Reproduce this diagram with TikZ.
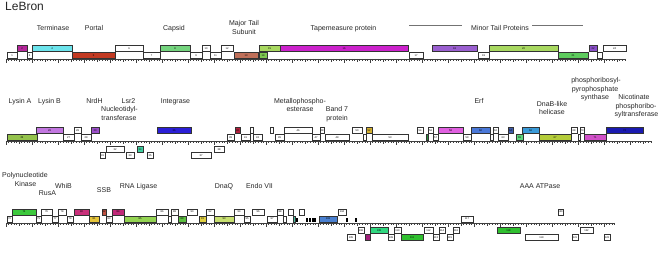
\documentclass[tikz,border=0pt]{standalone}
\usepackage{fontspec}
\setmainfont{Liberation Sans}
\definecolor{cMag}{HTML}{B5279B}
\definecolor{cCyan}{HTML}{6CE4EC}
\definecolor{cPortal}{HTML}{C23A22}
\definecolor{cCapsid}{HTML}{74D47E}
\definecolor{cBrown}{HTML}{C0705A}
\definecolor{cGr14}{HTML}{7EC850}
\definecolor{cLtGr}{HTML}{A8D860}
\definecolor{cTape}{HTML}{CC22CC}
\definecolor{cPurp}{HTML}{9A5FD0}
\definecolor{cGr21}{HTML}{5ECC5E}
\definecolor{cPurp2}{HTML}{8A4FC8}
\definecolor{cLysA}{HTML}{94C24C}
\definecolor{cLysB}{HTML}{C277E0}
\definecolor{cNrdH}{HTML}{9B4FC9}
\definecolor{cTeal}{HTML}{3FD0A0}
\definecolor{cInt}{HTML}{2B1FD6}
\definecolor{cCrim}{HTML}{B0203C}
\definecolor{cGold}{HTML}{D4B030}
\definecolor{cDkGr}{HTML}{2A8A3A}
\definecolor{cPink}{HTML}{E060E0}
\definecolor{cBlue}{HTML}{4A78D8}
\definecolor{cDkBl}{HTML}{3C5AA8}
\definecolor{cGr65}{HTML}{5CD47A}
\definecolor{cSky}{HTML}{3A9AD8}
\definecolor{cYG}{HTML}{B4CC3A}
\definecolor{cMag71}{HTML}{D050C8}
\definecolor{cNavy}{HTML}{1A1AB0}
\definecolor{cGr74}{HTML}{3CC83C}
\definecolor{cRose}{HTML}{C8307A}
\definecolor{cGold81}{HTML}{E6C53A}
\definecolor{cSSB}{HTML}{C05040}
\definecolor{cRose84}{HTML}{C02878}
\definecolor{cRNA}{HTML}{94D452}
\definecolor{cGr89}{HTML}{5CC040}
\definecolor{cGold91}{HTML}{E0D040}
\definecolor{cYG93}{HTML}{C8E070}
\definecolor{cTeal101}{HTML}{40C0A0}
\definecolor{cBl103}{HTML}{4A80D0}
\definecolor{cPlum}{HTML}{A0207A}
\definecolor{cSpring}{HTML}{30D880}
\definecolor{cGreen}{HTML}{30C030}
\newcommand\gene[6]{%
  \pgfmathsetmacro\gw{#3-#2}%
  \pgfmathsetmacro\gx{(#2+#3)/2}%
  \node[gbox, fill=#5, minimum width=\gw pt] (#1) at (\gx,#4) {#6};}
\newcommand\trna[3]{%
  \pgfmathsetmacro\gw{#3-#2}%
  \pgfmathsetmacro\gx{(#2+#3)/2}%
  \node[trnabox, minimum width=\gw pt] (#1) at (\gx,220) {};}
\newcommand\ruler[2]{% y, number of minor ticks
  \draw[rulerline] (6,#1) -- ({6+2.6*#2},#1);
  \foreach \i in {0,...,#2}{
    \pgfmathsetmacro\tl{mod(\i,10)==0 ? 4 : (mod(\i,5)==0 ? 3 : 2)}
    \draw[rulerline] ({6+2.6*\i},#1) -- ++(0,\tl);
  }}
\begin{document}
\begin{tikzpicture}[x=1pt,y=-1pt,
  gbox/.style={draw=black!80, line width=0.4pt, inner sep=0pt, outer sep=0pt,
    minimum height=5.8pt, font=\fontsize{2.6}{3}\selectfont},
  trnabox/.style={fill=black, draw=none, inner sep=0pt, minimum height=4pt},
  rulerline/.style={draw=black!75, line width=0.35pt},
  lab/.style={anchor=base, inner sep=0pt, text=black!85, font=\fontsize{7}{8.5}\selectfont},
  bracketline/.style={draw=black!55, line width=0.5pt}]
\useasboundingbox (0,0) rectangle (661,256);
\node[anchor=base west, inner sep=0pt, text=black!85, font=\fontsize{12}{14}\selectfont] (title) at (5,11) {LeBron};

% ---------------- Row 1 ----------------
\ruler{59}{238}
\def\U{48.3}\def\L{55.3}
\gene{g1}{7}{17}{\L}{white}{1}
\gene{g2}{17}{27}{\U}{cMag}{2}
\gene{g3}{27}{32}{\L}{white}{3}
\gene{g4}{32}{72}{\U}{cCyan}{4}
\gene{g5}{72}{115}{\L}{cPortal}{5}
\gene{g6}{115}{143}{\U}{white}{6}
\gene{g7}{143}{160}{\L}{white}{7}
\gene{g8}{160}{190}{\U}{cCapsid}{8}
\gene{g9}{190}{202}{\L}{white}{9}
\gene{g10}{202}{210}{\U}{white}{10}
\gene{g11}{210}{221}{\L}{white}{11}
\gene{g12}{221}{233}{\U}{white}{12}
\gene{g13}{234}{258}{\L}{cBrown}{13}
\gene{g14}{259}{267}{\L}{cGr14}{14}
\gene{g15}{259}{280}{\U}{cLtGr}{15}
\gene{g16}{280}{408}{\U}{cTape}{16}
\gene{g17}{409}{423}{\L}{white}{17}
\gene{g18}{432}{477}{\U}{cPurp}{18}
\gene{g19}{478}{489}{\L}{white}{19}
\gene{g20}{489}{558}{\U}{cLtGr}{20}
\gene{g21}{558}{588}{\L}{cGr21}{21}
\gene{g22}{589}{597}{\U}{cPurp2}{22}
\gene{g23}{597}{602}{\L}{white}{}
\gene{g24}{603}{626}{\U}{white}{24}

\node[lab] (lterm) at (53,30.3) {Terminase};
\node[lab] (lport) at (94,30.3) {Portal};
\node[lab] (lcaps) at (174,30.3) {Capsid};
\node[lab] (lmts1) at (244,25.7) {Major Tail};
\node[lab] (lmts2) at (244,34.3) {Subunit};
\node[lab] (ltape) at (343.5,30.3) {Tapemeasure protein};
\node[lab] (lmtp) at (500,30.3) {Minor Tail Proteins};
\coordinate (mtpa) at (409,25.5);
\coordinate (mtpb) at (462,25.5);
\coordinate (mtpc) at (532,25.5);
\coordinate (mtpd) at (583,25.5);
\draw[bracketline] (mtpa) -- (mtpb);
\draw[bracketline] (mtpc) -- (mtpd);

% ---------------- Row 2 ----------------
\ruler{141.3}{248}
\def\U{130.3}\def\L{137.3}\def\Ba{149.5}\def\Bb{155.2}
\gene{g25}{7}{37}{\L}{cLysA}{25}
\gene{g26}{36}{63}{\U}{cLysB}{26}
\gene{g27}{63}{74}{\L}{white}{27}
\gene{g28}{74}{81}{\U}{white}{28}
\gene{g29}{81}{91}{\L}{white}{29}
\gene{g30}{91}{99}{\U}{cNrdH}{30}
\gene{g31}{100}{105}{\Bb}{white}{31}
\gene{g32}{106}{124}{\Ba}{white}{32}
\gene{g33}{126}{134}{\Bb}{white}{33}
\gene{g34}{137}{143}{\Ba}{cTeal}{34}
\gene{g35}{147}{153}{\Bb}{white}{35}
\gene{g36}{157}{191}{\U}{cInt}{36}
\gene{g37}{191}{211}{\Bb}{white}{37}
\gene{g38}{214}{224}{\Ba}{white}{38}
\gene{g39}{227}{234}{\L}{white}{39}
\gene{g40}{235}{240}{\U}{cCrim}{40}
\gene{g41}{241}{250}{\L}{white}{41}
\gene{g42}{250}{253}{\U}{white}{}
\gene{g43}{253}{262}{\L}{white}{43}
\gene{g44}{270}{273}{\U}{white}{}
\gene{g45}{275}{284}{\L}{white}{45}
\gene{g46}{284}{312}{\U}{white}{46}
\gene{g47}{312}{320}{\L}{white}{47}
\gene{g48}{320}{324}{\U}{white}{48}
\gene{g49}{325}{349}{\L}{white}{49}
\gene{g50}{352}{362}{\U}{white}{50}
\gene{g51}{363}{366}{\L}{white}{}
\gene{g52}{366}{372}{\U}{cGold}{52}
\gene{g53}{372}{408}{\L}{white}{53}
\gene{g54}{417}{423}{\U}{white}{54}
\gene{g55}{426}{428}{\L}{cDkGr}{}
\gene{g56}{428}{433}{\U}{white}{56}
\gene{g57}{433}{438}{\L}{white}{57}
\gene{g58}{438}{463}{\U}{cPink}{58}
\gene{g59}{463}{471}{\L}{white}{59}
\gene{g60}{471}{490}{\U}{cBlue}{60}
\gene{g61}{490}{493}{\L}{white}{}
\gene{g62}{493}{498}{\U}{white}{62}
\gene{g63}{498}{508}{\L}{white}{63}
\gene{g64}{508}{513}{\U}{cDkBl}{64}
\gene{g65}{516}{523}{\L}{cGr65}{65}
\gene{g66}{522}{539}{\U}{cSky}{66}
\gene{g67}{539}{571}{\L}{cYG}{67}
\gene{g68}{571}{577}{\U}{white}{68}
\gene{g69}{578}{580}{\L}{white}{}
\gene{g70}{580}{584}{\U}{white}{70}
\gene{g71}{584}{606}{\L}{cMag71}{71}
\gene{g72}{606}{643}{\U}{cNavy}{72}

\node[lab] (llysa) at (20,103.3) {Lysin A};
\node[lab] (llysb) at (49.5,103.3) {Lysin B};
\node[lab] (lnrdh) at (94.5,103.3) {NrdH};
\node[lab] (llsr2) at (128.5,103.3) {Lsr2};
\node[lab] (lnuc1) at (119.5,111.7) {Nucleotidyl-};
\node[lab] (lnuc2) at (119,120.2) {transferase};
\node[lab] (lint) at (175.5,103.3) {Integrase};
\node[lab] (lmet1) at (300,103.3) {Metallophospho-};
\node[lab] (lmet2) at (300,111.7) {esterase};
\node[lab] (lband1) at (337,111.7) {Band 7};
\node[lab] (lband2) at (337,120.2) {protein};
\node[lab] (lerf) at (479,103.3) {Erf};
\node[lab] (ldnab1) at (552,106.5) {DnaB-like};
\node[lab] (ldnab2) at (552,115) {helicase};
\node[lab] (lprs1) at (596,83) {phosphoribosyl-};
\node[lab] (lprs2) at (595,91.5) {pyrophosphate};
\node[lab] (lprs3) at (595,100) {synthase};
\node[lab] (lnic1) at (634,100) {Nicotinate};
\node[lab] (lnic2) at (636,108.5) {phosphoribo-};
\node[lab] (lnic3) at (636.5,117) {syltransferase};

% ---------------- Row 3 ----------------
\ruler{223}{234}
\def\U{212}\def\L{219}\def\Ba{230.5}\def\Bb{237.2}
\gene{g73}{7}{12}{\L}{white}{73}
\gene{g74}{12}{36}{\U}{cGr74}{74}
\gene{g75}{36}{41}{\L}{white}{75}
\gene{g76}{41}{52}{\U}{white}{76}
\gene{g77}{52}{58}{\L}{white}{77}
\gene{g78}{58}{66}{\U}{white}{78}
\gene{g79}{67}{73}{\L}{white}{79}
\gene{g80}{74}{89}{\U}{cRose}{80}
\gene{g81}{89}{99}{\L}{cGold81}{81}
\gene{g82}{102}{106}{\U}{cSSB}{82}
\gene{g83}{106}{112}{\L}{white}{83}
\gene{g84}{112}{124}{\U}{cRose84}{84}
\gene{g85}{124}{156}{\L}{cRNA}{85}
\gene{g86}{156}{168}{\U}{white}{86}
\gene{g87}{168}{171}{\L}{white}{}
\gene{g88}{171}{178}{\U}{white}{88}
\gene{g89}{178}{186}{\L}{cGr89}{89}
\gene{g90}{187}{197}{\U}{white}{90}
\gene{g91}{199}{206}{\L}{cGold91}{91}
\gene{g92}{206}{214}{\U}{white}{92}
\gene{g93}{214}{234}{\L}{cYG93}{93}
\gene{g94}{234}{244}{\U}{white}{94}
\gene{g95}{244}{250}{\L}{white}{95}
\gene{g96}{252}{264}{\U}{white}{96}
\gene{g97}{267}{277}{\L}{white}{97}
\gene{g98}{277}{283}{\U}{white}{98}
\gene{g99}{283}{286}{\L}{white}{}
\gene{g100}{288}{293}{\U}{white}{}
\gene{g101}{293}{295}{\L}{cTeal101}{}
\trna{t1}{296}{298}
\gene{g102}{299}{304}{\U}{white}{}
\trna{t2}{306}{308}
\trna{t3}{308.8}{310.8}
\trna{t4}{311.6}{313.6}
\trna{t5}{314.4}{316.4}
\gene{g103}{319}{337}{\L}{cBl103}{103}
\gene{g104}{338}{346}{\U}{white}{104}
\trna{t6}{346}{347.5}
\trna{t7}{355}{357}
\gene{g105}{347}{355}{\Bb}{white}{105}
\gene{g106}{358}{364}{\Ba}{white}{106}
\gene{g107}{365}{370}{\Bb}{cPlum}{}
\gene{g108}{370}{388}{\Ba}{cSpring}{108}
\gene{g109}{388}{394}{\Bb}{white}{109}
\gene{g110}{394}{401}{\Ba}{white}{110}
\gene{g111}{401}{423}{\Bb}{cGreen}{111}
\gene{g112}{424}{433}{\Ba}{white}{112}
\gene{g113}{433}{439}{\Bb}{white}{113}
\gene{g114}{439}{445}{\Ba}{white}{114}
\gene{g115}{447}{453}{\Bb}{white}{115}
\gene{g116}{453}{459}{\Ba}{white}{116}
\gene{g117}{461}{473}{\L}{white}{117}
\gene{g118}{497}{520}{\Ba}{cGreen}{118}
\gene{g119}{525}{558}{\Bb}{white}{119}
\gene{g120}{558}{563}{\U}{white}{120}
\gene{g121}{572}{578}{\Bb}{white}{121}
\gene{g122}{580}{593}{\Ba}{white}{122}
\gene{g123}{604}{610}{\Bb}{white}{123}

\node[lab] (lpnk1) at (25,177.3) {Polynucleotide};
\node[lab] (lpnk2) at (25.5,186.3) {Kinase};
\node[lab] (lrusa) at (47.5,195.3) {RusA};
\node[lab] (lwhib) at (63.5,188.3) {WhiB};
\node[lab] (lssb) at (104,192.7) {SSB};
\node[lab] (lrnal) at (138.5,188.3) {RNA Ligase};
\node[lab] (ldnaq) at (224,188.3) {DnaQ};
\node[lab] (lendo) at (259.5,188.3) {Endo VII};
\node[lab] (laaa) at (540,188.3) {AAA ATPase};
\end{tikzpicture}
\end{document}
